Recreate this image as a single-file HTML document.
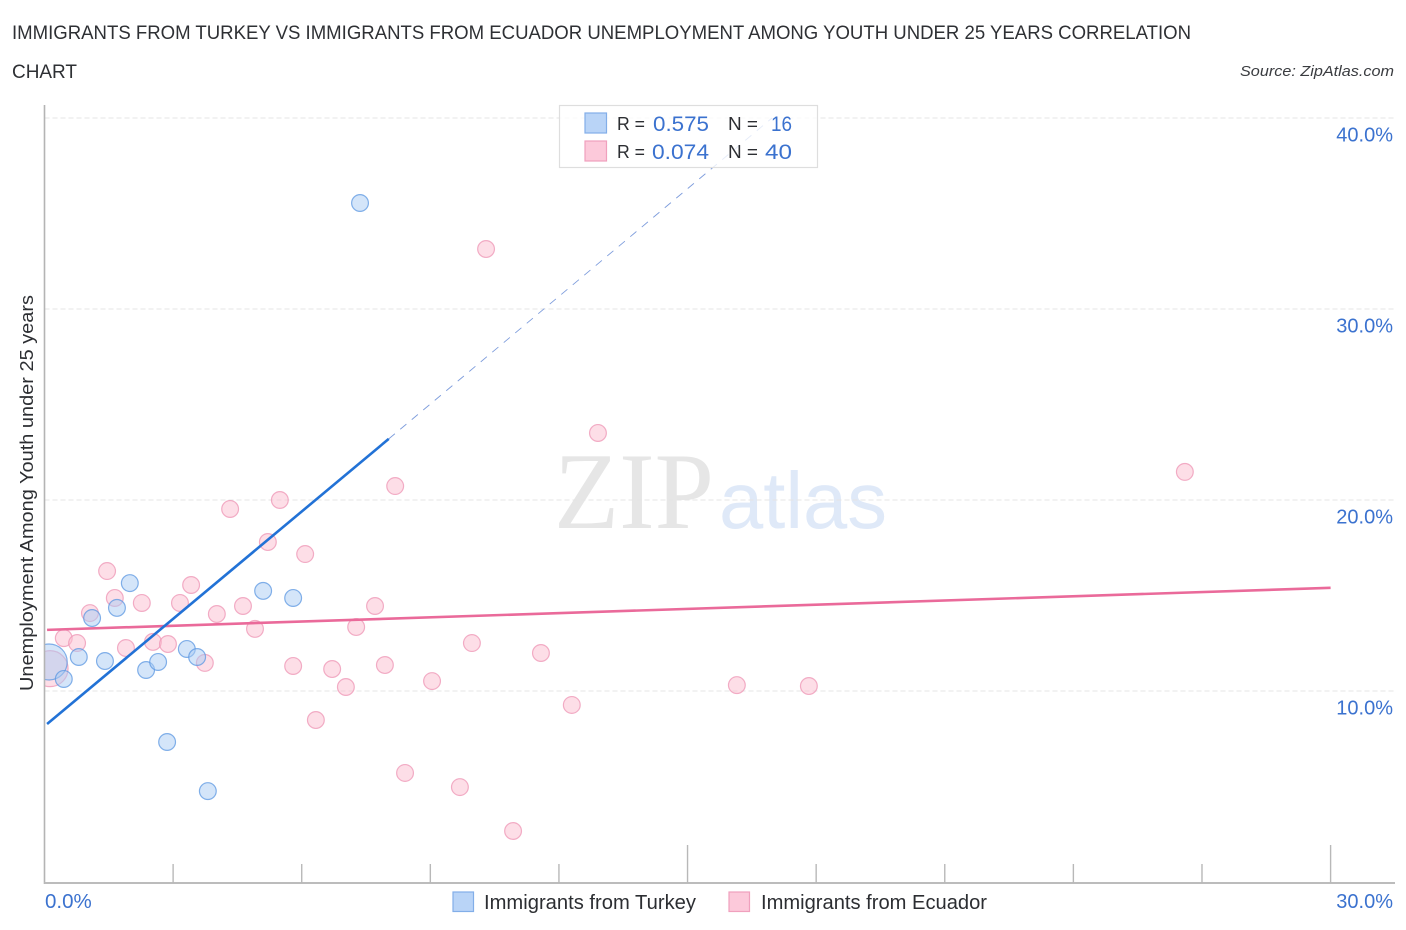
<!DOCTYPE html>
<html lang="en">
<head>
<meta charset="utf-8">
<title>Immigrants from Turkey vs Immigrants from Ecuador Unemployment Among Youth under 25 Years Correlation Chart</title>
<style>
html,body{margin:0;padding:0;background:#fff;width:1406px;height:930px;overflow:hidden}
svg{display:block;font-family:"Liberation Sans",sans-serif}
</style>
</head>
<body>
<svg id="chart" xmlns="http://www.w3.org/2000/svg" width="1406" height="930" viewBox="0 0 1406 930">
  <defs>
    <clipPath id="plot-clip"><rect x="44.5" y="100" width="1352" height="784"/></clipPath>
  </defs>
  <rect width="1406" height="930" fill="#ffffff"/>
  <text x="12" y="39" font-size="19" fill="#2e3034" textLength="1179" lengthAdjust="spacingAndGlyphs">IMMIGRANTS FROM TURKEY VS IMMIGRANTS FROM ECUADOR UNEMPLOYMENT AMONG YOUTH UNDER 25 YEARS CORRELATION</text>
  <text x="12" y="78" font-size="19" fill="#2e3034" textLength="65" lengthAdjust="spacingAndGlyphs">CHART</text>
  <text x="1394" y="76" font-size="15" font-style="italic" fill="#3a3c40" text-anchor="end" textLength="154" lengthAdjust="spacingAndGlyphs">Source: ZipAtlas.com</text>

  <g id="watermark">
    <text x="554" y="528" font-family="'Liberation Serif',serif" font-size="109" fill="#e6e6e6" textLength="160" lengthAdjust="spacingAndGlyphs">ZIP</text>
    <text x="719" y="528" font-family="'Liberation Sans',sans-serif" font-size="80" fill="#dfe9f8" textLength="168" lengthAdjust="spacingAndGlyphs">atlas</text>
  </g>

  <g id="grid"></g>
  <g id="trends"></g>
  <g id="marks" clip-path="url(#plot-clip)"></g>
  <g id="axes"></g>

  <text transform="translate(33,691) rotate(-90)" font-size="18.5" fill="#2c2e32" textLength="396" lengthAdjust="spacingAndGlyphs">Unemployment Among Youth under 25 years</text>

  <g>
    <rect x="559.5" y="105.5" width="258" height="62" fill="#ffffff" fill-opacity="0.8" stroke="#dedede" stroke-width="1.2"/>
    <rect x="585" y="113" width="21.5" height="20" fill="#b9d4f7" stroke="#82aee8" stroke-width="1.2"/>
    <rect x="585" y="141" width="21.5" height="20" fill="#fcc9da" stroke="#f0a0bd" stroke-width="1.2"/>
    <text x="617" y="130" font-size="18" fill="#2c2e32" textLength="28" lengthAdjust="spacingAndGlyphs">R =</text>
    <text x="653" y="131" font-size="21" fill="#3b72cf" textLength="56" lengthAdjust="spacingAndGlyphs">0.575</text>
    <text x="728" y="130" font-size="18" fill="#2c2e32" textLength="30" lengthAdjust="spacingAndGlyphs">N =</text>
    <text x="771" y="131" font-size="21" fill="#3b72cf" textLength="21" lengthAdjust="spacingAndGlyphs">16</text>
    <text x="617" y="158" font-size="18" fill="#2c2e32" textLength="28" lengthAdjust="spacingAndGlyphs">R =</text>
    <text x="652" y="159" font-size="21" fill="#3b72cf" textLength="57" lengthAdjust="spacingAndGlyphs">0.074</text>
    <text x="728" y="158" font-size="18" fill="#2c2e32" textLength="30" lengthAdjust="spacingAndGlyphs">N =</text>
    <text x="765" y="159" font-size="21" fill="#3b72cf" textLength="27" lengthAdjust="spacingAndGlyphs">40</text>
  </g>

  <g>
    <rect x="453" y="892" width="20.5" height="19.5" fill="#b9d4f7" stroke="#82aee8" stroke-width="1.2"/>
    <text x="484" y="909" font-size="20" fill="#2c2e32" textLength="212" lengthAdjust="spacingAndGlyphs">Immigrants from Turkey</text>
    <rect x="729" y="892" width="20.5" height="19.5" fill="#fcc9da" stroke="#f0a0bd" stroke-width="1.2"/>
    <text x="761" y="909" font-size="20" fill="#2c2e32" textLength="226" lengthAdjust="spacingAndGlyphs">Immigrants from Ecuador</text>
  </g>
</svg>
<script>
const yTickValues = [10, 20, 30, 40];
const yTickLabels = ["10.0%", "20.0%", "30.0%", "40.0%"];
const xTickValues = [0, 3, 6, 9, 12, 15, 18, 21, 24, 27, 30];
const xMajorTicks = [15, 30];
const xEndLabels = ["0.0%", "30.0%"];

const turkeyX = [0.11, 0.45, 0.80, 1.11, 1.41, 1.69, 1.99, 2.37, 2.65, 2.86, 3.32, 3.56, 3.81, 5.10, 5.80, 7.36];
const turkeyY = [11.52, 10.63, 11.78, 13.82, 11.57, 14.35, 15.65, 11.10, 11.52, 7.33, 12.20, 11.78, 4.76, 15.24, 14.87, 35.55];
const turkeyLarge = [true, false, false, false, false, false, false, false, false, false, false, false, false, false, false, false];

const ecuadorX = [0.13, 0.45, 0.76, 1.06, 1.46, 1.64, 1.90, 2.27, 2.53, 2.88, 3.16, 3.42, 3.74, 4.02, 4.33, 4.63, 4.91, 5.21, 5.49, 5.80, 6.08, 6.33, 6.71, 7.03, 7.27, 7.71, 7.94, 8.18, 8.41, 9.04, 9.69, 9.97, 10.30, 10.93, 11.58, 12.30, 12.91, 16.15, 17.83, 26.60];
const ecuadorY = [11.17, 12.77, 12.51, 14.08, 16.28, 14.87, 12.25, 14.61, 12.57, 12.46, 14.61, 15.55, 11.47, 14.03, 19.53, 14.45, 13.25, 17.80, 20.00, 11.31, 17.17, 8.48, 11.15, 10.21, 13.35, 14.45, 11.36, 20.73, 5.71, 10.52, 4.97, 12.51, 33.14, 2.67, 11.99, 9.27, 23.51, 10.31, 10.26, 21.47];
const ecuadorLarge = [true, false, false, false, false, false, false, false, false, false, false, false, false, false, false, false, false, false, false, false, false, false, false, false, false, false, false, false, false, false, false, false, false, false, false, false, false, false, false, false];

const turkeyTrendX = [0.06, 8.03];
const turkeyTrendY = [8.27, 23.2];
const turkeyTrendDashX = [8.03, 16.97];
const turkeyTrendDashY = [23.2, 40];
const ecuadorTrendX = [0.06, 30];
const ecuadorTrendY = [13.2, 15.4];

const NS = "http://www.w3.org/2000/svg";
const plotLeft = 44.5, plotBottom = 882, plotRight = 1395, plotTop = 105;
const xScale = v => plotLeft + v * 42.87;
const yScale = v => plotBottom - v * 19.1;

function make(parent, tag, attrs, text) {
  const el = document.createElementNS(NS, tag);
  for (const k in attrs) el.setAttribute(k, attrs[k]);
  if (text !== undefined) el.textContent = text;
  parent.appendChild(el);
  return el;
}

const grid = document.getElementById("grid");
const axes = document.getElementById("axes");
const trends = document.getElementById("trends");
const marks = document.getElementById("marks");

yTickValues.forEach((v, i) => {
  const line = make(grid, "line", {x1: plotLeft, x2: plotRight, y1: yScale(v), y2: yScale(v), stroke: "#e4e4e4", "stroke-width": 1, "stroke-dasharray": "5 3"});
  
  
  const label = make(axes, "text", {x: 1393, y: yScale(v) + 23.5, "font-size": 20, fill: "#3b72cf", "text-anchor": "end"}, yTickLabels[i]);
  
  
});

const yAxisLine = make(axes, "line", {x1: plotLeft, x2: plotLeft, y1: plotTop, y2: plotBottom + 2, stroke: "#b4b4b4", "stroke-width": 1.6});


const xAxisLine = make(axes, "line", {x1: plotLeft, x2: plotRight, y1: plotBottom + 1, y2: plotBottom + 1, stroke: "#bcbcbc", "stroke-width": 2});



xTickValues.slice(1).forEach(v => {
  const top = xMajorTicks.includes(v) ? 845 : 864;
  const tick = make(axes, "line", {x1: xScale(v), x2: xScale(v), y1: top, y2: plotBottom + 1, stroke: "#b8b8b8", "stroke-width": 1.4});
  
  
});

const xLabelStart = make(axes, "text", {x: 45, y: 908, "font-size": 20.5, fill: "#3b72cf"}, xEndLabels[0]);


const xLabelEnd = make(axes, "text", {x: 1393, y: 908, "font-size": 20, fill: "#3b72cf", "text-anchor": "end"}, xEndLabels[1]);



function drawPoints(xs, ys, large, fill, stroke, name) {
  xs.forEach((x, i) => {
    const c = make(marks, "circle", {
      cx: xScale(x), cy: yScale(ys[i]), r: large[i] ? 18 : 8.4,
      fill: fill, "fill-opacity": 0.5, stroke: stroke, "stroke-opacity": 0.75, "stroke-width": 1.2
    });
    
    
  });
}
drawPoints(ecuadorX, ecuadorY, ecuadorLarge, "#fbbdd0", "#ee94b4", "ecuador-point");
drawPoints(turkeyX, turkeyY, turkeyLarge, "#a9cbf3", "#5b97e2", "turkey-point");

const turkeyDash = make(trends, "line", {x1: xScale(turkeyTrendDashX[0]), y1: yScale(turkeyTrendDashY[0]), x2: xScale(turkeyTrendDashX[1]), y2: yScale(turkeyTrendDashY[1]), stroke: "#7d9cdc", "stroke-width": 0.9, "stroke-dasharray": "8 7"});



const ecuadorLine = make(marks, "line", {x1: xScale(ecuadorTrendX[0]), y1: yScale(ecuadorTrendY[0]), x2: xScale(ecuadorTrendX[1]), y2: yScale(ecuadorTrendY[1]), stroke: "#ea6a9a", "stroke-width": 2.6});


const turkeyLine = make(marks, "line", {x1: xScale(turkeyTrendX[0]), y1: yScale(turkeyTrendY[0]), x2: xScale(turkeyTrendX[1]), y2: yScale(turkeyTrendY[1]), stroke: "#2272d6", "stroke-width": 2.6});


</script>
</body>
</html>
